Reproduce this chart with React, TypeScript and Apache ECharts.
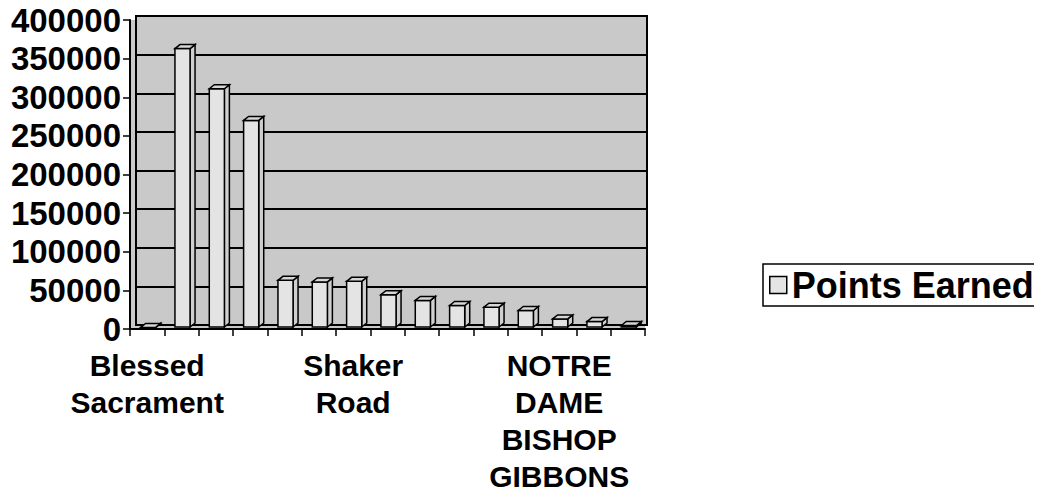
import React, { useEffect, useRef } from "react";
import * as echarts from "echarts";

const categories: string[] = [
  "Blessed\nSacrament", "", "", "", "", "",
  "Shaker\nRoad", "", "", "", "", "",
  "NOTRE\nDAME\nBISHOP\nGIBBONS", "", "",
];
const pointsEarned: number[] = [
  2000, 363000, 311000, 270000, 63000, 61000, 61700, 44400,
  37000, 30400, 28300, 23900, 13000, 9600, 4500,
];
const seriesName = "Points Earned";
const yMin = 0;
const yMax = 400000;
const yStep = 50000;

const FONT = "'Liberation Sans', Arial, sans-serif";
const WALL = "#c9c9c9";
const BAR = "#e4e4e4";
const BAR_TOP = "#d6d6d6";
const BAR_SIDE = "#cfcfcf";

export default function App() {
  const ref = useRef<HTMLDivElement>(null);
  useEffect(() => {
    if (!ref.current) return;
    const chart = echarts.init(ref.current, undefined, { renderer: "svg" });
    const dx = 5;
    const dy = -4;
    const option: any = {
      animation: false,
      backgroundColor: "#ffffff",
      legend: {
        left: 763,
        top: 264,
        orient: "horizontal",
        backgroundColor: "#ffffff",
        borderColor: "#000",
        borderWidth: 1.5,
        borderRadius: 0,
        padding: [3, 24, 3, 6],
        itemWidth: 17,
        itemHeight: 17,
        itemGap: 7,
        textStyle: { fontFamily: FONT, fontWeight: "bold", fontSize: 36, color: "#000" },
        data: [
          {
            name: seriesName,
            icon: "rect",
            itemStyle: { color: BAR, borderColor: "#000", borderWidth: 1.5 },
          },
        ],
      },
      grid: [
        {
          left: 130, top: 20, width: 515, height: 309,
          show: true, backgroundColor: WALL, borderWidth: 0,
        },
        {
          left: 136, top: 16, width: 511, height: 309,
          show: true, backgroundColor: WALL, borderColor: "#000", borderWidth: 2,
        },
      ],
      xAxis: [
        {
          type: "category",
          gridIndex: 0,
          data: categories,
          boundaryGap: true,
          axisLine: { show: true, lineStyle: { color: "#000", width: 2 } },
          axisTick: { show: true, interval: 0, length: 7, lineStyle: { color: "#000", width: 1.5 } },
          axisLabel: {
            interval: 5,
            margin: 18,
            color: "#000",
            fontFamily: FONT,
            fontWeight: "bold",
            fontSize: 30,
            lineHeight: 37,
          },
          splitLine: { show: false },
        },
        {
          type: "category",
          gridIndex: 1,
          data: categories,
          show: false,
        },
      ],
      yAxis: [
        {
          type: "value",
          gridIndex: 0,
          min: yMin,
          max: yMax,
          interval: yStep,
          axisLine: { show: true, lineStyle: { color: "#000", width: 2 } },
          axisTick: { show: true, length: 7, lineStyle: { color: "#000", width: 1.5 } },
          axisLabel: {
            margin: 9,
            color: "#000",
            fontFamily: FONT,
            fontWeight: "bold",
            fontSize: 33,
            formatter: (v: number) => String(v),
          },
          splitLine: { show: false },
        },
        {
          type: "value",
          gridIndex: 1,
          min: yMin,
          max: yMax,
          interval: yStep,
          axisLine: { show: false },
          axisTick: { show: false },
          axisLabel: { show: false },
          splitLine: { show: true, lineStyle: { color: "#000", width: 2 } },
        },
      ],
      series: [
        {
          type: "custom",
          name: seriesName,
          xAxisIndex: 0,
          yAxisIndex: 0,
          clip: false,
          itemStyle: { color: BAR, borderColor: "#000", borderWidth: 1.5 },
          data: pointsEarned.map((v, i) => [i, v]),
          renderItem: (params: any, api: any) => {
            const idx = api.value(0);
            const val = api.value(1);
            const top = api.coord([idx, val]);
            const base = api.coord([idx, 0]);
            const w = api.size([1, 0])[0] * 0.44;
            const cx = top[0] + 1;
            const x0 = cx - w / 2;
            const x1 = cx + w / 2;
            const yT = top[1];
            const yB = base[1] - 2;
            const stroke = { stroke: "#000", lineWidth: 1.5 };
            return {
              type: "group",
              children: [
                {
                  type: "polygon",
                  shape: { points: [[x1, yT], [x1 + dx, yT + dy], [x1 + dx, yB + dy], [x1, yB]] },
                  style: { fill: BAR_SIDE, ...stroke },
                },
                {
                  type: "rect",
                  shape: { x: x0, y: yT, width: w, height: Math.max(yB - yT, 0) },
                  style: { fill: BAR, ...stroke },
                },
                {
                  type: "polygon",
                  shape: { points: [[x0, yT], [x0 + dx, yT + dy], [x1 + dx, yT + dy], [x1, yT]] },
                  style: { fill: BAR_TOP, ...stroke },
                },
              ],
            };
          },
        },
      ],
    };
    chart.setOption(option);
    return () => chart.dispose();
  }, []);
  return <div ref={ref} style={{ width: 1042, height: 498, margin: -8 }} />;
}
